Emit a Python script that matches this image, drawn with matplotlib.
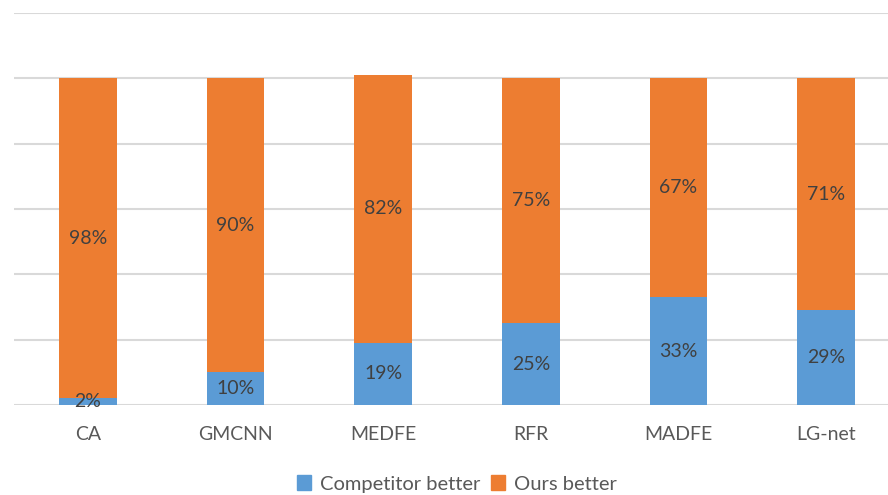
import matplotlib
matplotlib.use("Agg")
import matplotlib.pyplot as plt
from matplotlib.patches import Patch

categories = ["CA", "GMCNN", "MEDFE", "RFR", "MADFE", "LG-net"]
competitor = [2, 10, 19, 25, 33, 29]
ours = [98, 90, 82, 75, 67, 71]
series_names = ["Competitor better", "Ours better"]

blue = "#5B9BD5"
orange = "#ED7D31"
label_color = "#404040"
tick_color = "#595959"

plt.rcParams['font.family'] = ['Lato', 'DejaVu Sans']

fig = plt.figure(figsize=(8.88, 4.95), dpi=100)
W, H = 888, 495
ax = fig.add_axes([14 / W, (H - 405) / H, 886 / W, 392 / H])

x = list(range(len(categories)))
bw = 0.39
ax.bar(x, competitor, width=bw, color=blue, zorder=3)
ax.bar(x, ours, width=bw, bottom=competitor, color=orange, zorder=3)

for i in x:
    ax.text(i, competitor[i] / 2, f"{competitor[i]}%", ha="center", va="center",
            fontsize=14, color=label_color, zorder=4)
    ax.text(i, competitor[i] + ours[i] / 2, f"{ours[i]}%", ha="center", va="center",
            fontsize=14, color=label_color, zorder=4)

ax.set_xlim(-0.5, len(categories) - 0.5)
ax.set_ylim(0, 120)
ax.set_yticks(range(0, 121, 20))
ax.set_yticklabels([])
ax.tick_params(axis='y', length=0)
ax.yaxis.grid(True, color="#D9D9D9", linewidth=1.5, zorder=0)
ax.set_xticks(x)
ax.set_xticklabels(categories, fontsize=14, color=tick_color)
ax.tick_params(axis='x', length=0, pad=15)
for s in ax.spines.values():
    s.set_visible(False)

handles = [Patch(color=blue), Patch(color=orange)]
fig.legend(handles, series_names, loc="center", bbox_to_anchor=(457 / W, (H - 484) / H),
           ncol=2, frameon=False, fontsize=14.5, handlelength=0.7, handleheight=0.7,
           handletextpad=0.45, columnspacing=0.5, labelcolor=tick_color)

fig.savefig("out.png", dpi=100)
